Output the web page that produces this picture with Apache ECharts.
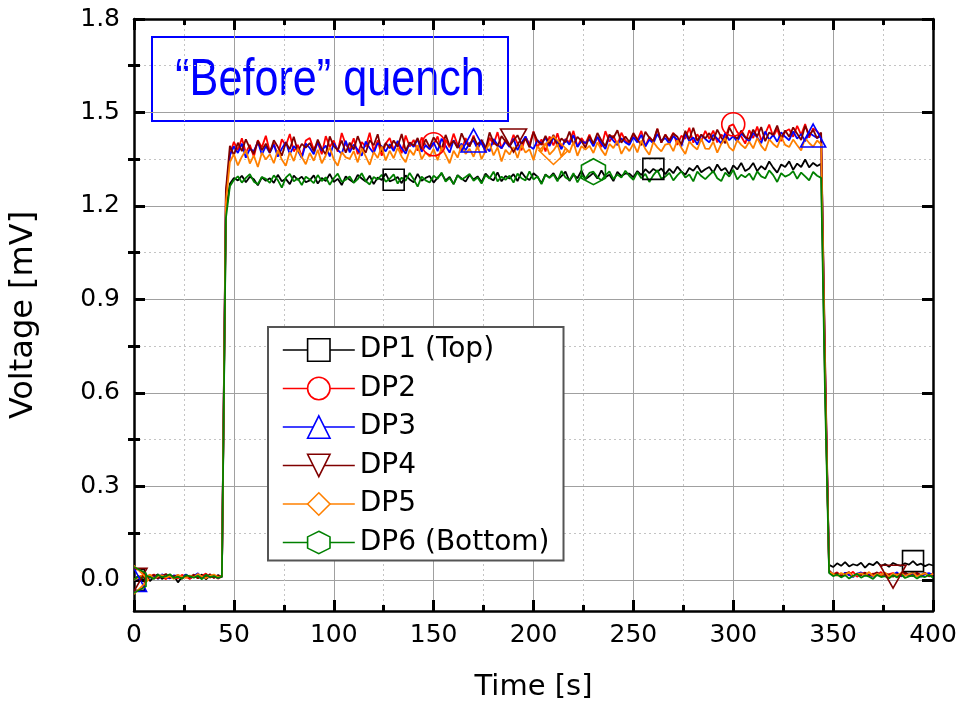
<!DOCTYPE html>
<html>
<head>
<meta charset="utf-8">
<script src="https://cdn.jsdelivr.net/npm/echarts@6/dist/echarts.min.js"></script>
<style>
  html, body { margin: 0; padding: 0; background: #ffffff; }
  #chart { width: 960px; height: 711px; }
</style>
</head>
<body>
<div id="chart"></div>
<script>
// Sampling grid of the voltage taps: one reading every 2 s from 0 to 400 s
const TIME_STEP = 2;
const times = Array.from({ length: 201 }, (_, i) => i * TIME_STEP);

const seriesNames = ['DP1 (Top)', 'DP2', 'DP3', 'DP4', 'DP5', 'DP6 (Bottom)'];

// Voltage readings [mV], one value per sample time
const dp1 = [
  0.000, 0.012, 0.006, 0.015, -0.004, 0.010, 0.018, 0.003, 0.011, 0.007,
  0.014, -0.008, 0.009, 0.016, 0.004, 0.012, 0.006, 0.017, 0.002, 0.013,
  0.008, 0.015, 0.010,
  1.180,
  1.271, 1.290, 1.282, 1.297, 1.276, 1.294, 1.286, 1.266, 1.292, 1.281,
  1.289, 1.274, 1.300, 1.279, 1.287, 1.270, 1.297, 1.284, 1.294, 1.276,
  1.282, 1.298, 1.272, 1.290, 1.280, 1.303, 1.277, 1.287, 1.267, 1.295,
  1.284, 1.275, 1.300, 1.288, 1.278, 1.297, 1.270, 1.291, 1.283, 1.304,
  1.279, 1.284, 1.293, 1.273, 1.298, 1.285, 1.276, 1.303, 1.281, 1.290,
  1.296, 1.275, 1.291, 1.304, 1.282, 1.293, 1.270, 1.299, 1.288, 1.278,
  1.300, 1.285, 1.295, 1.276, 1.304, 1.290, 1.282, 1.308, 1.279, 1.296,
  1.288, 1.302, 1.280, 1.309, 1.291, 1.283, 1.305, 1.294, 1.273, 1.301,
  1.291, 1.305, 1.284, 1.296, 1.310, 1.280, 1.300, 1.289, 1.313, 1.286,
  1.295, 1.306, 1.288, 1.314, 1.292, 1.300, 1.280, 1.309, 1.296, 1.304,
  1.304, 1.292, 1.312, 1.299, 1.318, 1.305, 1.319, 1.310, 1.320, 1.302,
  1.319, 1.305, 1.326, 1.311, 1.300, 1.322, 1.313, 1.330, 1.308, 1.318,
  1.325, 1.307, 1.333, 1.314, 1.322, 1.302, 1.330, 1.317, 1.338, 1.312,
  1.320, 1.338, 1.312, 1.328, 1.317, 1.343, 1.323, 1.307, 1.333, 1.325,
  1.343, 1.316, 1.336, 1.325, 1.349, 1.324, 1.338, 1.328, 1.335,
  0.620,
  0.048, 0.041, 0.053, 0.045, 0.057, 0.043, 0.050, 0.046, 0.055, 0.039,
  0.052, 0.047, 0.058, 0.044, 0.051, 0.042, 0.054, 0.048, 0.045, 0.053,
  0.049, 0.060, 0.047, 0.052, 0.044, 0.050, 0.046
];

const dp2 = [
  0.000, 0.008, 0.014, 0.004, 0.011, 0.017, 0.006, 0.013, 0.002, 0.015,
  0.009, 0.005, 0.016, 0.010, 0.003, 0.014, 0.008, 0.012, 0.020, 0.007,
  0.013, 0.004, 0.011,
  1.240,
  1.364, 1.406, 1.379, 1.417, 1.371, 1.396, 1.358, 1.411, 1.388, 1.425,
  1.374, 1.401, 1.362, 1.414, 1.393, 1.431, 1.375, 1.396, 1.358, 1.410,
  1.418, 1.381, 1.403, 1.366, 1.424, 1.389, 1.410, 1.374, 1.434, 1.397,
  1.381, 1.417, 1.366, 1.405, 1.390, 1.435, 1.376, 1.411, 1.361, 1.400,
  1.418, 1.381, 1.405, 1.369, 1.426, 1.391, 1.412, 1.377, 1.420, 1.394,
  1.383, 1.398, 1.423, 1.376, 1.413, 1.388, 1.432, 1.396, 1.378, 1.418,
  1.391, 1.426, 1.383, 1.408, 1.371, 1.419, 1.397, 1.437, 1.384, 1.413,
  1.391, 1.428, 1.401, 1.379, 1.422, 1.398, 1.439, 1.387, 1.414, 1.375,
  1.423, 1.394, 1.433, 1.386, 1.415, 1.404, 1.441, 1.390, 1.418, 1.399,
  1.429, 1.398, 1.421, 1.389, 1.440, 1.406, 1.426, 1.395, 1.435, 1.410,
  1.400, 1.430, 1.411, 1.441, 1.392, 1.422, 1.406, 1.448, 1.403, 1.429,
  1.411, 1.435, 1.396, 1.425, 1.416, 1.451, 1.403, 1.430, 1.408, 1.441,
  1.415, 1.442, 1.404, 1.429, 1.418, 1.456, 1.462, 1.437, 1.423, 1.400,
  1.443, 1.418, 1.455, 1.411, 1.432, 1.461, 1.423, 1.447, 1.408, 1.439,
  1.446, 1.422, 1.457, 1.428, 1.463, 1.419, 1.449, 1.439, 1.425,
  0.680,
  0.028, 0.018, 0.024, 0.012, 0.021, 0.015, 0.026, 0.010, 0.019, 0.023,
  0.013, 0.020, 0.016, 0.025, 0.011, 0.018, 0.022, 0.014, 0.020, 0.026,
  0.012, 0.017, 0.023, 0.015, 0.019, 0.013, 0.021
];

const dp3 = [
  0.000, 0.004, 0.010, 0.016, 0.007, 0.013, 0.003, 0.018, 0.009, 0.005,
  0.014, 0.011, 0.006, 0.017, 0.008, 0.012, 0.021, 0.005, 0.014, 0.009,
  0.016, 0.006, 0.010,
  1.230,
  1.362, 1.391, 1.370, 1.400, 1.355, 1.383, 1.376, 1.405, 1.365, 1.392,
  1.370, 1.397, 1.358, 1.384, 1.405, 1.366, 1.392, 1.378, 1.354, 1.400,
  1.386, 1.366, 1.406, 1.377, 1.394, 1.359, 1.401, 1.380, 1.367, 1.409,
  1.372, 1.397, 1.380, 1.361, 1.407, 1.386, 1.369, 1.402, 1.391, 1.375,
  1.398, 1.376, 1.409, 1.385, 1.368, 1.403, 1.390, 1.414, 1.374, 1.395,
  1.382, 1.404, 1.376, 1.416, 1.393, 1.371, 1.411, 1.387, 1.400, 1.379,
  1.401, 1.410, 1.383, 1.411, 1.390, 1.375, 1.415, 1.396, 1.385, 1.406,
  1.389, 1.416, 1.379, 1.403, 1.423, 1.392, 1.383, 1.411, 1.400, 1.419,
  1.392, 1.419, 1.405, 1.382, 1.413, 1.397, 1.427, 1.389, 1.408, 1.402,
  1.414, 1.391, 1.422, 1.401, 1.383, 1.426, 1.409, 1.396, 1.417, 1.404,
  1.396, 1.421, 1.404, 1.428, 1.391, 1.413, 1.401, 1.431, 1.409, 1.418,
  1.400, 1.424, 1.412, 1.391, 1.432, 1.408, 1.420, 1.397, 1.428, 1.415,
  1.404, 1.428, 1.416, 1.400, 1.435, 1.411, 1.424, 1.406, 1.433, 1.419,
  1.407, 1.435, 1.420, 1.401, 1.439, 1.412, 1.428, 1.406, 1.436, 1.422,
  1.411, 1.439, 1.416, 1.431, 1.407, 1.435, 1.426, 1.418, 1.424,
  0.660,
  0.025, 0.014, 0.020, 0.011, 0.023, 0.016, 0.009, 0.019, 0.024, 0.013,
  0.018, 0.010, 0.022, 0.015, 0.020, 0.012, 0.017, 0.024, 0.011, 0.019,
  0.014, 0.021, 0.016, 0.010, 0.018, 0.022, 0.015
];

const dp4 = [
  0.000, 0.010, 0.005, 0.013, 0.008, 0.016, 0.004, 0.012, 0.019, 0.006,
  0.011, 0.015, 0.003, 0.013, 0.009, 0.017, 0.005, 0.012, 0.008, 0.018,
  0.006, 0.014, 0.009,
  1.250,
  1.393, 1.363, 1.403, 1.376, 1.414, 1.385, 1.368, 1.409, 1.379, 1.400,
  1.371, 1.411, 1.390, 1.361, 1.404, 1.382, 1.422, 1.375, 1.399, 1.387,
  1.402, 1.375, 1.413, 1.384, 1.365, 1.423, 1.392, 1.379, 1.410, 1.371,
  1.403, 1.381, 1.424, 1.389, 1.371, 1.411, 1.395, 1.430, 1.374, 1.402,
  1.385, 1.410, 1.390, 1.431, 1.377, 1.404, 1.394, 1.418, 1.382, 1.414,
  1.389, 1.420, 1.402, 1.381, 1.428, 1.394, 1.409, 1.386, 1.433, 1.404,
  1.391, 1.421, 1.397, 1.412, 1.381, 1.436, 1.404, 1.392, 1.424, 1.407,
  1.393, 1.410, 1.427, 1.398, 1.416, 1.388, 1.438, 1.408, 1.396, 1.425,
  1.399, 1.428, 1.391, 1.417, 1.404, 1.439, 1.396, 1.422, 1.409, 1.387,
  1.424, 1.400, 1.434, 1.410, 1.392, 1.429, 1.418, 1.443, 1.403, 1.423,
  1.405, 1.434, 1.413, 1.395, 1.438, 1.419, 1.408, 1.448, 1.403, 1.429,
  1.408, 1.433, 1.422, 1.397, 1.441, 1.414, 1.451, 1.409, 1.429, 1.417,
  1.434, 1.409, 1.445, 1.420, 1.401, 1.452, 1.428, 1.415, 1.442, 1.421,
  1.415, 1.445, 1.423, 1.453, 1.408, 1.436, 1.428, 1.458, 1.418, 1.442,
  1.422, 1.452, 1.432, 1.412, 1.457, 1.427, 1.444, 1.417, 1.436,
  0.700,
  0.030, 0.017, 0.022, 0.013, 0.019, 0.025, 0.011, 0.020, 0.015, 0.023,
  0.012, 0.018, 0.024, 0.014, 0.021, 0.016, 0.010, 0.019, 0.013, 0.022,
  0.017, 0.012, 0.020, 0.015, 0.023, 0.011, 0.018
];

const dp5 = [
  0.000, 0.006, 0.013, 0.009, 0.017, 0.004, 0.011, 0.015, 0.007, 0.012,
  0.003, 0.016, 0.010, 0.006, 0.014, 0.008, 0.019, 0.011, 0.005, 0.013,
  0.017, 0.009, 0.012,
  1.210,
  1.341, 1.366, 1.330, 1.358, 1.379, 1.336, 1.362, 1.325, 1.371, 1.349,
  1.366, 1.337, 1.379, 1.349, 1.329, 1.373, 1.344, 1.384, 1.357, 1.334,
  1.370, 1.345, 1.380, 1.337, 1.362, 1.388, 1.349, 1.329, 1.373, 1.356,
  1.351, 1.376, 1.340, 1.384, 1.359, 1.332, 1.373, 1.354, 1.391, 1.346,
  1.377, 1.353, 1.387, 1.358, 1.340, 1.380, 1.363, 1.395, 1.350, 1.372,
  1.358, 1.383, 1.347, 1.388, 1.364, 1.337, 1.377, 1.355, 1.396, 1.367,
  1.383, 1.358, 1.393, 1.350, 1.377, 1.402, 1.362, 1.388, 1.343, 1.380,
  1.365, 1.389, 1.354, 1.397, 1.371, 1.382, 1.347, 1.392, 1.374, 1.402,
  1.365, 1.378, 1.398, 1.358, 1.385, 1.371, 1.405, 1.361, 1.392, 1.381,
  1.393, 1.370, 1.404, 1.380, 1.362, 1.399, 1.386, 1.409, 1.367, 1.391,
  1.376, 1.400, 1.372, 1.410, 1.383, 1.364, 1.405, 1.388, 1.375, 1.397,
  1.400, 1.376, 1.411, 1.387, 1.367, 1.407, 1.392, 1.381, 1.416, 1.384,
  1.383, 1.406, 1.371, 1.399, 1.417, 1.388, 1.377, 1.411, 1.396, 1.385,
  1.406, 1.385, 1.418, 1.393, 1.377, 1.414, 1.399, 1.388, 1.422, 1.396,
  1.389, 1.413, 1.395, 1.378, 1.418, 1.402, 1.390, 1.410, 1.398,
  0.640,
  0.026, 0.019, 0.013, 0.022, 0.016, 0.024, 0.011, 0.018, 0.021, 0.014,
  0.025, 0.012, 0.019, 0.016, 0.023, 0.010, 0.020, 0.015, 0.022, 0.013,
  0.018, 0.024, 0.011, 0.017, 0.021, 0.014, 0.019
];

const dp6 = [
  0.000, 0.011, 0.005, 0.014, 0.009, 0.003, 0.016, 0.008, 0.012, 0.018,
  0.006, 0.010, 0.004, 0.015, 0.011, 0.007, 0.013, 0.002, 0.016, 0.009,
  0.012, 0.006, 0.010,
  1.160,
  1.263, 1.283, 1.295, 1.275, 1.290, 1.302, 1.278, 1.270, 1.293, 1.287,
  1.274, 1.298, 1.283, 1.259, 1.291, 1.303, 1.279, 1.288, 1.267, 1.294,
  1.285, 1.273, 1.299, 1.280, 1.292, 1.268, 1.289, 1.304, 1.277, 1.284,
  1.295, 1.274, 1.286, 1.305, 1.280, 1.269, 1.293, 1.285, 1.300, 1.278,
  1.287, 1.301, 1.272, 1.291, 1.281, 1.306, 1.286, 1.262, 1.294, 1.282,
  1.275, 1.297, 1.287, 1.307, 1.278, 1.290, 1.270, 1.298, 1.285, 1.293,
  1.303, 1.281, 1.291, 1.272, 1.299, 1.288, 1.310, 1.279, 1.294, 1.284,
  1.297, 1.275, 1.304, 1.289, 1.282, 1.311, 1.285, 1.295, 1.270, 1.300,
  1.290, 1.301, 1.279, 1.312, 1.291, 1.283, 1.305, 1.276, 1.298, 1.288,
  1.306, 1.310, 1.293, 1.282, 1.298, 1.311, 1.286, 1.301, 1.291, 1.313,
  1.296, 1.284, 1.308, 1.289, 1.303, 1.277, 1.299, 1.315, 1.288, 1.294,
  1.306, 1.282, 1.298, 1.311, 1.291, 1.301, 1.279, 1.310, 1.296, 1.286,
  1.299, 1.312, 1.289, 1.280, 1.307, 1.294, 1.316, 1.285, 1.300, 1.292,
  1.304, 1.283, 1.311, 1.295, 1.289, 1.314, 1.299, 1.277, 1.305, 1.294,
  1.300, 1.312, 1.287, 1.307, 1.295, 1.282, 1.309, 1.297, 1.290,
  0.580,
  0.022, 0.012, 0.017, 0.008, 0.015, 0.004, 0.013, 0.019, 0.007, 0.014,
  0.010, 0.003, 0.016, 0.009, 0.012, 0.005, 0.015, 0.008, 0.018, 0.006,
  0.011, 0.014, 0.004, 0.012, 0.009, 0.016, 0.007
];

const voltages = [dp1, dp2, dp3, dp4, dp5, dp6];

// Times [s] at which each trace carries a symbol
const markerTimes = [
  [0, 130, 260, 390],
  [0, 150, 300],
  [0, 170, 340],
  [0, 190, 380],
  [0, 210],
  [0, 230]
];

// Axis ticks
const xMin = 0, xMax = 400, xStep = 50;
const yMin = -0.1, yMax = 1.8;
const yMajorTicks = [0, 0.3, 0.6, 0.9, 1.2, 1.5, 1.8];
const yMinorTicks = [0.15, 0.45, 0.75, 1.05, 1.35, 1.65];

const titleText = '\u201CBefore\u201D quench';

// ---- styling ----
const colors = ['#000000', '#ff0000', '#0000ff', '#800000', '#ff8000', '#008000'];
const HEX = 'path://M50,0 L93.3,25 L93.3,75 L50,100 L6.7,75 L6.7,25 Z';
const legendSymbols = ['rect', 'circle', 'triangle', 'triangle', 'diamond', HEX];
const legendRotates = [0, 0, 0, 180, 0, 0];
const markerKinds = ['square', 'circle', 'up', 'down', 'diamond', 'hex'];
const FONT = 'DejaVu Sans';

// Open symbol outline centred on a pixel position
function markerShape(kind, cx, cy, color) {
  const style = { fill: 'none', stroke: color, lineWidth: 1.6 };
  switch (kind) {
    case 'square':
      return { type: 'rect', shape: { x: cx - 10.5, y: cy - 10.5, width: 21, height: 21 }, style };
    case 'circle':
      return { type: 'circle', shape: { cx, cy, r: 11.5 }, style };
    case 'up':
      return { type: 'polygon', shape: { points: [[cx, cy - 11.5], [cx + 12.5, cy + 11.5], [cx - 12.5, cy + 11.5]] }, style };
    case 'down':
      return { type: 'polygon', shape: { points: [[cx - 13, cy - 11.5], [cx + 13, cy - 11.5], [cx, cy + 11.5]] }, style };
    case 'diamond':
      return { type: 'polygon', shape: { points: [[cx, cy - 14], [cx + 14.5, cy], [cx, cy + 14], [cx - 14.5, cy]] }, style };
    default:
      return { type: 'polygon', shape: { points: [[cx, cy - 13], [cx + 12, cy - 6.5], [cx + 12, cy + 6.5], [cx, cy + 13], [cx - 12, cy + 6.5], [cx - 12, cy - 6.5]] }, style };
  }
}

const lineSeries = seriesNames.map((name, s) => ({
  name,
  type: 'line',
  xAxisIndex: 0,
  yAxisIndex: 0,
  data: times.map((t, i) => [t, voltages[s][i]]),
  symbol: legendSymbols[s],
  symbolRotate: legendRotates[s],
  showSymbol: false,
  silent: true,
  animation: false,
  lineStyle: { color: colors[s], width: 1.8 },
  itemStyle: { color: colors[s] },
  z: 2
}));

const markerSeries = seriesNames.map((name, s) => ({
  name: name + ' symbols',
  type: 'custom',
  xAxisIndex: 0,
  yAxisIndex: 0,
  coordinateSystem: 'cartesian2d',
  data: markerTimes[s].map(t => [t, voltages[s][Math.round(t / TIME_STEP)]]),
  encode: { x: 0, y: 1 },
  clip: true,
  silent: true,
  animation: false,
  renderItem: (params, api) => {
    const p = api.coord([api.value(0), api.value(1)]);
    return markerShape(markerKinds[s], p[0], p[1], colors[s]);
  },
  z: 3
}));

const tickStyle = { color: '#000', width: 3 };
const axisLineStyle = { color: '#000', width: 2.5 };

const option = {
  backgroundColor: '#ffffff',
  animation: false,
  grid: { left: 133, right: 27, top: 19, bottom: 100, containLabel: false },
  xAxis: [
    {
      type: 'value', position: 'bottom', min: xMin, max: xMax, interval: xStep,
      name: 'Time [s]', nameLocation: 'middle', nameGap: 62,
      nameTextStyle: { fontFamily: FONT, fontSize: 29, color: '#000' },
      axisLine: { show: true, onZero: false, lineStyle: axisLineStyle },
      axisTick: { show: true, inside: true, length: 11, lineStyle: tickStyle },
      minorTick: { show: true, splitNumber: 2, length: 6, lineStyle: tickStyle },
      axisLabel: { show: true, margin: 12, fontFamily: FONT, fontSize: 25, color: '#000' },
      splitLine: { show: true, lineStyle: { color: '#a0a0a0', width: 1 } },
      minorSplitLine: { show: true, lineStyle: { color: '#c4c4c4', width: 1, type: [2, 3] } }
    },
    {
      type: 'value', position: 'top', min: xMin, max: xMax, interval: xStep,
      axisLine: { show: true, onZero: false, lineStyle: axisLineStyle },
      axisTick: { show: true, inside: true, length: 11, lineStyle: tickStyle },
      minorTick: { show: true, splitNumber: 2, length: 6, lineStyle: tickStyle },
      axisLabel: { show: false },
      splitLine: { show: false }
    }
  ],
  yAxis: [
    {
      type: 'value', position: 'left', min: yMin, max: yMax,
      name: 'Voltage [mV]', nameLocation: 'middle', nameGap: 94,
      nameTextStyle: { fontFamily: FONT, fontSize: 32, color: '#000' },
      axisLine: { show: true, onZero: false, lineStyle: axisLineStyle },
      axisTick: { show: true, inside: true, length: 11, customValues: yMajorTicks, lineStyle: tickStyle },
      axisLabel: {
        show: true, margin: 14, fontFamily: FONT, fontSize: 25, color: '#000',
        customValues: yMajorTicks, formatter: v => Number(v).toFixed(1)
      },
      splitLine: { show: true, lineStyle: { color: '#a0a0a0', width: 1 } }
    },
    {
      type: 'value', position: 'left', min: yMin, max: yMax,
      axisLine: { show: false },
      axisTick: { show: true, inside: true, length: 6, customValues: yMinorTicks, lineStyle: tickStyle },
      axisLabel: { show: false },
      splitLine: { show: true, lineStyle: { color: '#c4c4c4', width: 1, type: [2, 3] } }
    },
    {
      type: 'value', position: 'right', min: yMin, max: yMax,
      axisLine: { show: true, onZero: false, lineStyle: axisLineStyle },
      axisTick: { show: true, inside: true, length: 11, customValues: yMajorTicks, lineStyle: tickStyle },
      axisLabel: { show: false },
      splitLine: { show: false }
    },
    {
      type: 'value', position: 'right', min: yMin, max: yMax,
      axisLine: { show: false },
      axisTick: { show: true, inside: true, length: 6, customValues: yMinorTicks, lineStyle: tickStyle },
      axisLabel: { show: false },
      splitLine: { show: false }
    }
  ],
  legend: {
    show: true,
    orient: 'vertical',
    left: 268,
    top: 327,
    padding: [9, 14, 4, 14],
    itemWidth: 72,
    itemHeight: 28,
    itemGap: 10.5,
    backgroundColor: '#ffffff',
    borderColor: '#555555',
    borderWidth: 2,
    borderRadius: 0,
    selectedMode: false,
    textStyle: { fontFamily: FONT, fontSize: 28, color: '#000' },
    data: seriesNames.map((name, s) => ({
      name,
      itemStyle: { color: '#ffffff', borderColor: colors[s], borderWidth: 1.6 },
      lineStyle: { color: colors[s], width: 1.6 }
    }))
  },
  graphic: [
    {
      type: 'group',
      z: 100,
      children: [
        {
          type: 'rect',
          shape: { x: 152, y: 37, width: 356, height: 84 },
          style: { fill: '#ffffff', stroke: '#0000ff', lineWidth: 2 }
        },
        {
          type: 'text',
          x: 330, y: 81,
          scaleX: 0.83,
          style: {
            text: titleText,
            fill: '#0000ff',
            font: '52px "Liberation Sans", Arial, sans-serif',
            align: 'center',
            verticalAlign: 'middle'
          }
        }
      ]
    }
  ],
  series: [...lineSeries, ...markerSeries]
};

const chart = echarts.init(document.getElementById('chart'), null, { renderer: 'canvas' });
chart.setOption(option);
</script>
</body>
</html>
